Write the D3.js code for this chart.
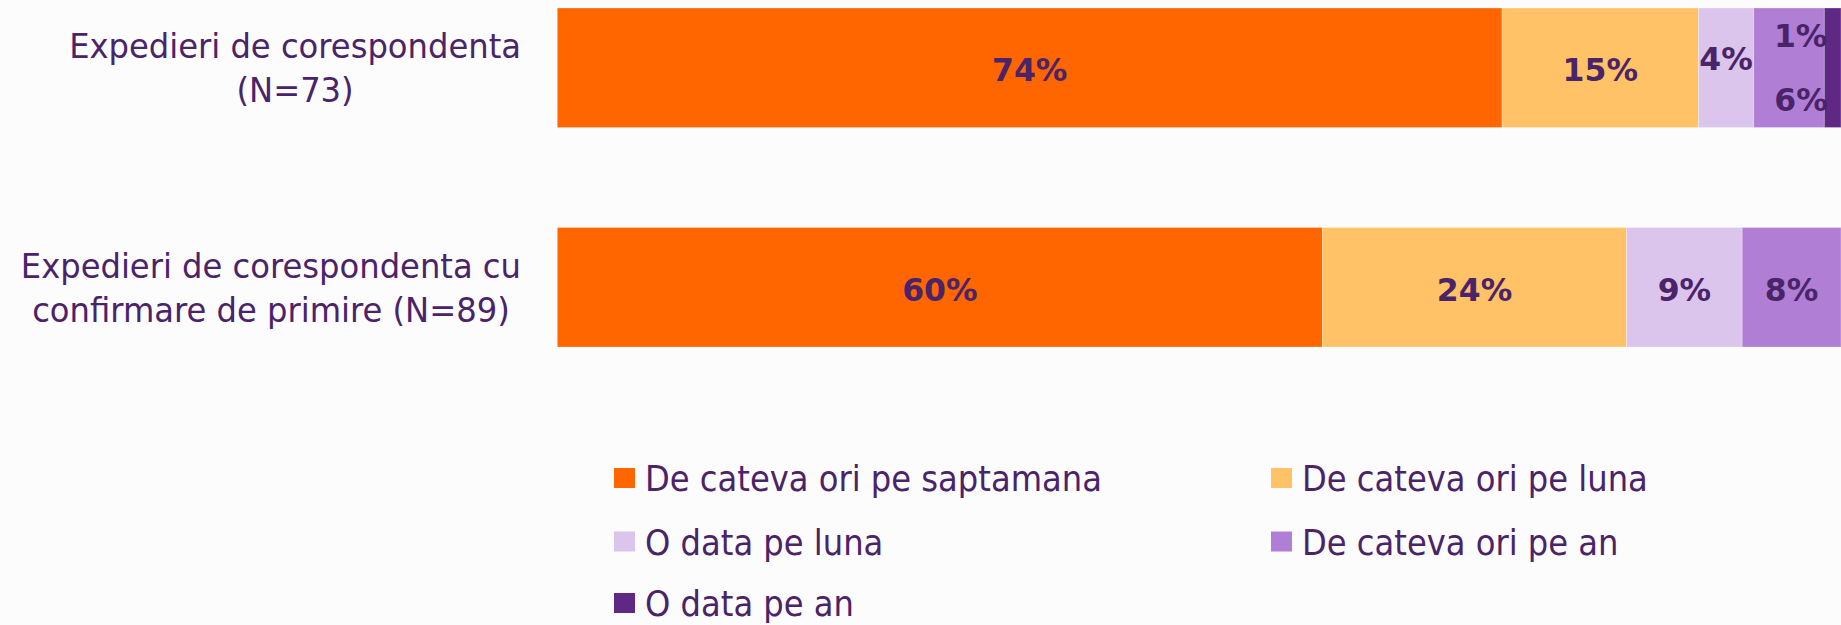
<!DOCTYPE html>
<html>
<head>
<meta charset="utf-8">
<script src="https://cdn.jsdelivr.net/npm/d3@7"></script>
<style>
  html, body { margin: 0; padding: 0; background: #fcfcfc; }
  svg { display: block; }
</style>
</head>
<body>
<svg id="chart" width="1841" height="625"></svg>
<script>
// ---- data ----
const categories = [
  "Expedieri de corespondenta (N=73)",
  "Expedieri de corespondenta cu confirmare de primire (N=89)"
];
const categoryLines = [
  ["Expedieri de corespondenta", "(N=73)"],
  ["Expedieri de corespondenta cu", "confirmare de primire (N=89)"]
];
const seriesNames = [
  "De cateva ori pe saptamana",
  "De cateva ori pe luna",
  "O data pe luna",
  "De cateva ori pe an",
  "O data pe an"
];
const seriesColors = ["#ff6600", "#ffc266", "#dcc5ec", "#b07fd5", "#5e2883"];
const values = [
  [73.6, 15.3, 4.3, 5.5, 1.3],
  [59.6, 23.7, 9.0, 7.7, 0]
];

// ---- layout / style ----
const textColor = "#4a2369";
const svg = d3.select("#chart");

const x = d3.scaleLinear().domain([0, 100]).range([557.3, 1841]);
const y = d3.scaleBand().domain(categories).range([8, 347]).paddingInner(0.4555).paddingOuter(0);

// label collision nudges (layout only): [category][series] -> [dx, dy]
const labelNudge = { "0-2": [0, -11], "0-3": [12, 30], "0-4": [-32, -34] };

function squeeze(sel, factor) {
  sel.each(function () {
    const w = this.getComputedTextLength();
    d3.select(this).attr("textLength", w * factor).attr("lengthAdjust", "spacingAndGlyphs");
  });
}

// stacked data
const rows = categories.map((c, ci) => {
  let acc = 0;
  return seriesNames.map((s, si) => {
    const v = values[ci][si];
    const seg = { cat: c, ci, si, x0: acc, x1: acc + v, v };
    acc += v;
    return seg;
  });
});

const gBars = svg.append("g");
rows.forEach(row => {
  gBars.selectAll(null)
    .data(row.filter(d => d.v > 0))
    .enter().append("rect")
    .attr("x", d => x(d.x0))
    .attr("y", d => y(d.cat))
    .attr("width", d => x(d.x1) - x(d.x0))
    .attr("height", y.bandwidth())
    .attr("fill", d => seriesColors[d.si])
    .attr("stroke", "#ffffff")
    .attr("stroke-opacity", 0.35)
    .attr("stroke-width", 0.8);
});

// value labels
const gLabels = svg.append("g");
rows.forEach(row => {
  gLabels.selectAll(null)
    .data(row.filter(d => d.v > 0))
    .enter().append("text")
    .attr("x", d => {
      const n = labelNudge[d.ci + "-" + d.si] || [0, 0];
      return (x(d.x0) + x(d.x1)) / 2 + n[0];
    })
    .attr("y", d => {
      const n = labelNudge[d.ci + "-" + d.si] || [0, 0];
      return y(d.cat) + y.bandwidth() / 2 + 13.5 + n[1];
    })
    .attr("text-anchor", "middle")
    .attr("font-family", "'DejaVu Sans', Verdana, sans-serif")
    .attr("font-weight", "bold")
    .attr("font-size", 31.5)
    .attr("fill", textColor)
    .text(d => Math.round(d.v) + "%");
});

// category labels (centered lines, block right-aligned)
const gCat = svg.append("g");
const catRight = 521;
const lineGap = 44;
categories.forEach((c, ci) => {
  const lines = categoryLines[ci];
  const cy = y(c) + y.bandwidth() / 2 + 12.4;
  const g = gCat.append("g");
  const texts = g.selectAll(null).data(lines).enter().append("text")
    .attr("y", (d, i) => cy + (i - (lines.length - 1) / 2) * lineGap)
    .attr("text-anchor", "middle")
    .attr("font-family", "'DejaVu Sans', Tahoma, sans-serif")
    .attr("font-size", 34)
    .attr("fill", textColor)
    .text(d => d);
  squeeze(texts, 0.947);
  let maxW = 0;
  texts.each(function () { maxW = Math.max(maxW, +d3.select(this).attr("textLength")); });
  texts.attr("x", catRight - maxW / 2);
});

// legend
const legendCols = [614, 1271];
const legendRowY = [478, 541.5, 603];
const gLeg = svg.append("g");
const items = gLeg.selectAll(null).data(seriesNames).enter().append("g")
  .attr("transform", (d, i) => `translate(${legendCols[i % 2]},${legendRowY[Math.floor(i / 2)]})`);
items.append("rect")
  .attr("x", 0).attr("y", -10).attr("width", 21).attr("height", 20)
  .attr("fill", (d, i) => seriesColors[i]);
const legTexts = items.append("text")
  .attr("x", 31).attr("y", 13)
  .attr("font-family", "'DejaVu Sans', Tahoma, sans-serif")
  .attr("font-size", 35.5)
  .attr("fill", textColor)
  .text(d => d);
squeeze(legTexts, 32.2 / 35.5);
</script>
</body>
</html>
